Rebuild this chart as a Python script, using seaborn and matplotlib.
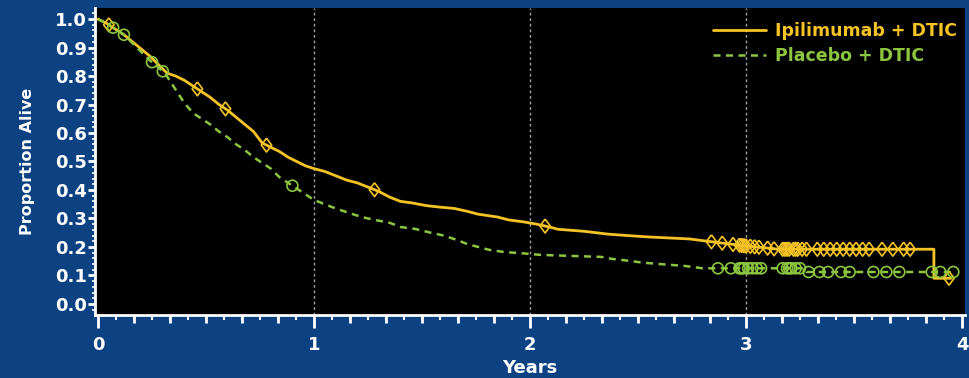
import numpy as np
import matplotlib
matplotlib.use("Agg")
import matplotlib.pyplot as plt
from matplotlib.ticker import MultipleLocator, FixedLocator, NullFormatter
from matplotlib.lines import Line2D
import seaborn as sns

# Kaplan-Meier curve vertices (years, proportion alive)
ipi_t = [0, 0.04, 0.08, 0.12, 0.16, 0.20, 0.24, 0.28, 0.32, 0.36, 0.40, 0.44, 0.48,
         0.52, 0.56, 0.60, 0.64, 0.68, 0.72, 0.76, 0.80, 0.84, 0.88, 0.92, 0.96, 1.00,
         1.05, 1.10, 1.15, 1.20, 1.25, 1.30, 1.35, 1.40, 1.45, 1.52, 1.58, 1.65, 1.71,
         1.76, 1.85, 1.90, 1.97, 2.03, 2.09, 2.13, 2.25, 2.36, 2.45, 2.55, 2.74, 2.80,
         2.96, 3.15, 3.87, 3.87, 3.95]
ipi_s = [1.0, 0.985, 0.965, 0.945, 0.92, 0.895, 0.87, 0.84, 0.81, 0.80, 0.785, 0.765, 0.745,
         0.725, 0.70, 0.68, 0.655, 0.63, 0.605, 0.565, 0.55, 0.535, 0.515, 0.50, 0.485, 0.475,
         0.465, 0.45, 0.435, 0.425, 0.41, 0.395, 0.375, 0.36, 0.355, 0.345, 0.34, 0.335, 0.325,
         0.315, 0.305, 0.295, 0.288, 0.28, 0.27, 0.262, 0.255, 0.245, 0.24, 0.235, 0.228, 0.222,
         0.207, 0.192, 0.192, 0.09, 0.09]

pbo_t = [0, 0.04, 0.08, 0.12, 0.16, 0.20, 0.24, 0.28, 0.31, 0.34, 0.37, 0.40, 0.44, 0.48,
         0.52, 0.56, 0.60, 0.64, 0.68, 0.72, 0.76, 0.80, 0.84, 0.88, 0.92, 0.96, 1.00, 1.05,
         1.10, 1.16, 1.22, 1.28, 1.35, 1.40, 1.47, 1.54, 1.60, 1.66, 1.71, 1.76, 1.81, 1.88,
         1.96, 2.05, 2.33, 2.38, 2.45, 2.52, 2.60, 2.72, 2.80, 3.27, 3.28, 3.97]
pbo_s = [1.0, 0.985, 0.965, 0.945, 0.915, 0.885, 0.855, 0.83, 0.81, 0.775, 0.74, 0.705, 0.67,
         0.65, 0.63, 0.605, 0.585, 0.56, 0.54, 0.515, 0.495, 0.475, 0.445, 0.425, 0.405, 0.385,
         0.365, 0.35, 0.335, 0.32, 0.305, 0.295, 0.285, 0.27, 0.263, 0.25, 0.24, 0.225, 0.21,
         0.20, 0.19, 0.182, 0.178, 0.172, 0.165, 0.158, 0.152, 0.145, 0.14, 0.133, 0.125, 0.125,
         0.112, 0.112]

# Censoring times (years)
ipi_cens = [0.05, 0.46, 0.59, 0.78, 1.28, 2.07, 2.84, 2.89, 2.94, 2.97, 2.98, 2.99, 3.00,
            3.02, 3.04, 3.06, 3.10, 3.13, 3.17, 3.18, 3.19, 3.20, 3.22, 3.23, 3.24, 3.26,
            3.28, 3.33, 3.36, 3.39, 3.42, 3.45, 3.48, 3.51, 3.54, 3.57, 3.63, 3.68, 3.73,
            3.76, 3.94]
pbo_cens = [0.07, 0.12, 0.25, 0.30, 0.90, 2.87, 2.93, 2.97, 2.98, 2.99, 3.01, 3.03, 3.05,
            3.07, 3.17, 3.19, 3.20, 3.21, 3.23, 3.25, 3.29, 3.34, 3.38, 3.44, 3.48, 3.59,
            3.65, 3.71, 3.86, 3.90, 3.96]

series_labels = ["Ipilimumab + DTIC", "Placebo + DTIC"]
x_ticks = [0, 1, 2, 3, 4]
y_ticks = [0.0, 0.1, 0.2, 0.3, 0.4, 0.5, 0.6, 0.7, 0.8, 0.9, 1.0]

BG = "#0c4282"
YELLOW = "#f6c325"
GREEN = "#8cc63f"
WHITE = "white"

sns.set_theme(style="dark")
plt.rcParams["font.family"] = ["DejaVu Sans"]
plt.rcParams["font.weight"] = "bold"

fig = plt.figure(figsize=(9.7, 3.78), dpi=100, facecolor=BG)
ax = fig.add_axes([95 / 970, 63 / 378, 870 / 970, 307 / 378])
ax.set_facecolor("black")


def at_time(times, surv, pts):
    """Curve height at each censoring time (last vertex at or before it)."""
    times = np.asarray(times)
    surv = np.asarray(surv)
    out = []
    for p in pts:
        idx = np.searchsorted(times, p, side="right") - 1
        idx = int(np.clip(idx, 0, len(times) - 2))
        t0, t1 = times[idx], times[idx + 1]
        s0, s1 = surv[idx], surv[idx + 1]
        frac = 0.0 if t1 == t0 else min(max((p - t0) / (t1 - t0), 0), 1)
        out.append(s0 + frac * (s1 - s0))
    return np.array(out)


# reference lines at each year
for yr in [1, 2, 3]:
    ax.axvline(yr, color="#a0a0a0", lw=1.0, ls=(0, (2, 2)), zorder=1)

sns.lineplot(x=ipi_t, y=ipi_s, ax=ax, color=YELLOW, lw=2.0,
             estimator=None, sort=False, errorbar=None, zorder=3)
sns.lineplot(x=pbo_t, y=pbo_s, ax=ax, color=GREEN, lw=1.8,
             linestyle=(0, (2.8, 2.2)), estimator=None, sort=False, errorbar=None, zorder=3)

diamond = [(0, 1), (0.75, 0), (0, -1), (-0.75, 0), (0, 1)]
sns.scatterplot(x=ipi_cens, y=at_time(ipi_t, ipi_s, ipi_cens), ax=ax, marker=diamond,
                s=100, facecolors="none", edgecolors=YELLOW, linewidths=1.2, legend=False,
                zorder=4)
sns.scatterplot(x=pbo_cens, y=at_time(pbo_t, pbo_s, pbo_cens), ax=ax, marker="o",
                s=62, facecolors="none", edgecolors=GREEN, linewidths=1.2, legend=False,
                zorder=4)

ax.set_xlim(-0.014, 4.014)
ax.set_ylim(-0.039, 1.039)

ax.xaxis.set_major_locator(FixedLocator(x_ticks))
ax.set_xticklabels([str(v) for v in x_ticks])
ax.xaxis.set_minor_locator(MultipleLocator(1 / 12))
ax.yaxis.set_major_locator(FixedLocator(y_ticks))
ax.set_yticklabels([f"{v:.1f}" for v in y_ticks])
ax.yaxis.set_minor_locator(MultipleLocator(0.02))

ax.tick_params(axis="x", which="major", bottom=True, length=9, width=2, color=WHITE,
               labelcolor=WHITE, labelsize=13, pad=6, direction="out")
ax.tick_params(axis="x", which="minor", bottom=True, length=3.5, width=1.5, color=WHITE,
               direction="out")
ax.tick_params(axis="y", which="major", left=True, length=5, width=2, color=WHITE,
               labelcolor=WHITE, labelsize=13, pad=1, direction="out")
ax.tick_params(axis="y", which="minor", left=True, length=2, width=1.2, color=WHITE,
               direction="out")
for lab in ax.get_xticklabels() + ax.get_yticklabels():
    lab.set_fontweight("bold")

# medium ticks every two months
sec = ax.secondary_xaxis("bottom")
sec.set_xticks([v / 6 for v in range(1, 24) if v % 6 != 0])
sec.xaxis.set_major_formatter(NullFormatter())
sec.tick_params(length=6, width=2, color=WHITE, direction="out")
sec.spines["bottom"].set_visible(False)

for side in ["top", "right"]:
    ax.spines[side].set_visible(False)
for side in ["left", "bottom"]:
    ax.spines[side].set_visible(True)
    ax.spines[side].set_color(WHITE)
    ax.spines[side].set_linewidth(2)

ax.grid(False)
ax.set_xlabel("Years", color=WHITE, fontsize=13, fontweight="bold", labelpad=4)
ax.set_ylabel("Proportion Alive", color=WHITE, fontsize=11.5, fontweight="bold", labelpad=14)

handles = [Line2D([], [], color=YELLOW, lw=2.0),
           Line2D([], [], color=GREEN, lw=1.8, ls=(0, (2.8, 2.2)))]
leg = ax.legend(handles, series_labels, loc="upper right", bbox_to_anchor=(0.995, 0.965),
                frameon=False, handlelength=3.1, handletextpad=0.5, labelspacing=0.4,
                borderaxespad=0, borderpad=0.2,
                prop={"weight": "bold", "size": 12.5})
for txt, col in zip(leg.get_texts(), [YELLOW, GREEN]):
    txt.set_color(col)

fig.savefig("out.png", dpi=100, facecolor=BG)
